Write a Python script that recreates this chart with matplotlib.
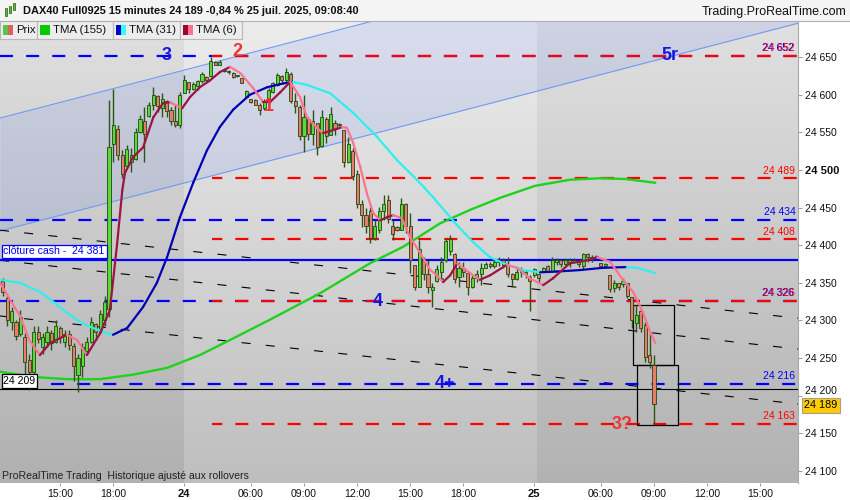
import numpy as np
import matplotlib
matplotlib.use("Agg")
import matplotlib.pyplot as plt
from matplotlib.patches import Rectangle
from matplotlib.collections import LineCollection
from matplotlib.colors import to_rgb
from matplotlib.lines import Line2D

plt.rcParams['font.family'] = ['Liberation Sans', 'DejaVu Sans']
plt.rcParams['lines.scale_dashes'] = False

# ---------------- data (15-minute candles, DAX40 Full0925) ----------------
opens = [24352, 24330, 24298, 24298, 24282, 24278, 24248, 24232, 24285, 24265,
         24272, 24283, 24272, 24290, 24272, 24282, 24266, 24228, 24240, 24260,
         24272, 24295, 24285, 24300, 24315, 24535, 24555, 24520, 24505, 24510,
         24515, 24550, 24565, 24572, 24586, 24598, 24583, 24592, 24580, 24565,
         24560, 24602, 24617, 24608, 24612, 24618, 24624, 24625, 24643, 24640,
         24632, 24631, 24629, 24625, 24622, 24597, 24594, 24593, 24587, 24582,
         24590, 24604, 24613, 24625, 24620, 24628, 24592, 24584, 24545, 24568,
         24548, 24562, 24532, 24568, 24546, 24562, 24560, 24553, 24510, 24525,
         24495, 24455, 24440, 24445, 24410, 24420, 24445, 24460, 24425, 24424,
         24420, 24455, 24425, 24374, 24345, 24380, 24362, 24340, 24352, 24365,
         24380, 24392, 24388, 24358, 24370, 24363, 24345, 24357, 24362, 24370,
         24375, 24372, 24378, 24380, 24374, 24362, 24355, 24365, 24362, 24358,
         24360, 24362, 24365, 24372, 24366, 24378, 24380, 24375, 24381, 24378,
         24378, 24372, 24388, 24385, 24384, 24376, 24372, 24360, 24343, 24350,
         24348, 24350, 24331, 24297, 24312, 24294, 24254, 24241]
highs = [24356, 24333, 24318, 24301, 24314, 24283, 24256, 24292, 24292, 24283,
         24292, 24287, 24301, 24292, 24287, 24287, 24270, 24256, 24270, 24278,
         24305, 24296, 24314, 24332, 24593, 24607, 24560, 24526, 24533, 24529,
         24556, 24573, 24584, 24590, 24610, 24600, 24602, 24593, 24584, 24587,
         24604, 24626, 24617, 24617, 24620, 24630, 24625, 24650, 24645, 24646,
         24633, 24633, 24630, 24626, 24622, 24606, 24595, 24594, 24589, 24594,
         24609, 24617, 24629, 24626, 24635, 24630, 24602, 24586, 24600, 24570,
         24580, 24562, 24580, 24570, 24584, 24566, 24563, 24553, 24544, 24529,
         24500, 24460, 24449, 24451, 24433, 24451, 24467, 24467, 24433, 24425,
         24463, 24456, 24443, 24374, 24407, 24384, 24380, 24350, 24374, 24384,
         24410, 24413, 24390, 24378, 24378, 24363, 24360, 24367, 24376, 24378,
         24378, 24380, 24384, 24383, 24384, 24363, 24370, 24371, 24367, 24360,
         24370, 24363, 24371, 24374, 24384, 24383, 24380, 24383, 24383, 24383,
         24380, 24390, 24390, 24387, 24387, 24376, 24376, 24360, 24354, 24350,
         24356, 24350, 24331, 24321, 24317, 24298, 24283, 24254]
lows = [24332, 24292, 24287, 24274, 24280, 24225, 24208, 24225, 24270, 24256,
        24265, 24261, 24270, 24270, 24265, 24261, 24219, 24205, 24225, 24256,
        24270, 24274, 24283, 24292, 24305, 24510, 24513, 24489, 24504, 24497,
        24513, 24549, 24510, 24570, 24580, 24577, 24570, 24570, 24560, 24557,
        24556, 24602, 24602, 24606, 24606, 24615, 24615, 24624, 24639, 24639,
        24630, 24628, 24622, 24624, 24615, 24596, 24589, 24586, 24573, 24580,
        24588, 24602, 24612, 24617, 24615, 24589, 24576, 24540, 24524, 24540,
        24533, 24520, 24530, 24536, 24546, 24546, 24558, 24504, 24509, 24487,
        24450, 24424, 24416, 24403, 24407, 24416, 24433, 24429, 24407, 24419,
        24420, 24416, 24363, 24340, 24345, 24354, 24336, 24318, 24351, 24356,
        24378, 24387, 24350, 24344, 24358, 24334, 24343, 24351, 24347, 24370,
        24370, 24370, 24373, 24370, 24358, 24344, 24354, 24358, 24356, 24313,
        24358, 24351, 24364, 24364, 24364, 24374, 24371, 24374, 24371, 24376,
        24371, 24367, 24378, 24378, 24383, 24371, 24370, 24338, 24338, 24341,
        24344, 24330, 24290, 24285, 24285, 24245, 24237, 24164]
closes = [24338, 24300, 24312, 24280, 24305, 24245, 24232, 24285, 24275, 24278,
          24285, 24270, 24292, 24278, 24282, 24268, 24240, 24250, 24265, 24272,
          24298, 24285, 24308, 24325, 24530, 24560, 24520, 24495, 24528, 24520,
          24550, 24568, 24548, 24586, 24600, 24585, 24595, 24578, 24565, 24560,
          24600, 24620, 24607, 24614, 24618, 24628, 24620, 24645, 24640, 24644,
          24631, 24630, 24623, 24625, 24616, 24605, 24590, 24587, 24580, 24592,
          24606, 24615, 24626, 24620, 24630, 24592, 24585, 24545, 24570, 24548,
          24565, 24530, 24570, 24545, 24575, 24555, 24561, 24510, 24535, 24492,
          24455, 24440, 24425, 24410, 24425, 24445, 24455, 24435, 24415, 24420,
          24455, 24425, 24380, 24345, 24395, 24362, 24345, 24345, 24368, 24378,
          24405, 24408, 24355, 24370, 24365, 24345, 24357, 24362, 24370, 24375,
          24372, 24378, 24380, 24374, 24362, 24355, 24365, 24368, 24365, 24352,
          24368, 24356, 24370, 24366, 24380, 24380, 24375, 24381, 24378, 24380,
          24375, 24388, 24385, 24383, 24386, 24372, 24375, 24342, 24350, 24345,
          24352, 24333, 24300, 24307, 24290, 24252, 24245, 24189]

tick_pos = [13, 25, 41, 56, 68, 80, 92, 104, 120, 135, 147, 159, 171]
tick_labels = ['15:00', '18:00', '24', '06:00', '09:00', '12:00', '15:00',
               '18:00', '25', '06:00', '09:00', '12:00', '15:00']
day_labels = ['24', '25']

# TMA (6)
tma6_x = [-0.6, 4, 6, 8.4, 10.7, 14.5, 16.8, 19, 22, 24.2, 25.8, 27, 27.6, 29.4,
          31.7, 34, 36.2, 37.8, 40.5, 42.3, 44.5, 46.8, 49, 51.3, 53.6, 56.5,
          58.8, 60.3, 62.6, 64.9, 67.1, 68.7, 70.9, 72.3, 74.6, 76.6, 77.7, 79.1,
          80.7, 82.2, 83.6, 85.2, 86.7, 88.1, 90.1, 91.9, 94.2, 96.5, 98, 99.4,
          101, 102.6, 103.9, 106.2, 107.7, 110, 113.8, 116.1, 119, 122, 124.2,
          128, 131.9, 134.2, 137.1, 140, 142.3, 144.5, 146.1, 147.3]
tma6_y = [24350, 24305, 24274, 24254, 24270, 24281, 24274, 24254, 24283, 24314,
          24400, 24473, 24496, 24517, 24530, 24570, 24589, 24590, 24582, 24597,
          24610, 24619, 24630, 24637, 24629, 24609, 24590, 24590, 24603, 24617,
          24597, 24570, 24556, 24549, 24553, 24557, 24556, 24536, 24504, 24469,
          24443, 24433, 24437, 24440, 24436, 24411, 24390, 24367, 24360, 24351,
          24360, 24376, 24370, 24360, 24354, 24360, 24374, 24370, 24356, 24347,
          24356, 24376, 24380, 24384, 24378, 24354, 24338, 24311, 24285, 24270]
# TMA (31)
tma31_x = [-0.6, 3.9, 8.4, 11.4, 14.5, 17.5, 20.4, 23.5, 24.9, 28.1, 31.7, 34.8,
           37.1, 40, 43, 46.1, 49, 52, 55.8, 59.7, 63.3, 65.5, 68.7, 73.9, 79.1,
           84.5, 89, 93.5, 97.1, 102.5, 106.2, 110, 113.8, 117.5, 121.3, 125,
           130.3, 135.5, 140.9, 143.2, 147.3]
tma31_y = [24354, 24350, 24338, 24325, 24310, 24298, 24290, 24283, 24281, 24290,
           24318, 24350, 24384, 24437, 24483, 24526, 24557, 24580, 24600, 24610,
           24615, 24617, 24613, 24602, 24576, 24544, 24513, 24487, 24464, 24427,
           24404, 24384, 24374, 24367, 24364, 24365, 24367, 24370, 24371, 24370,
           24363]
# TMA (155)
tma155_x = [-0.6, 6.8, 14.5, 22, 29.4, 37.1, 44.5, 51.3, 60.3, 71.6, 82.9, 90.4,
            98.7, 105.5, 112.3, 120.2, 128, 134.8, 140.5, 147.3]
tma155_y = [24232, 24225, 24222, 24222, 24228, 24237, 24254, 24274, 24301, 24336,
            24376, 24398, 24429, 24447, 24463, 24479, 24487, 24489, 24488, 24483]

# drawn objects (values at the left / right edge of the chart)
channel_lower = (24419, 24695)
channel_upper = (24569, 24845)
diag_lines = [(24420, 24303), (24380, 24262), (24306, 24189)]
blue_levels = [24652, 24434, 24326]
blue_level_216 = 24216
red_levels = [24652, 24489, 24408, 24326, 24163]
cash_close = 24381
ref_level = 24209
last_price = 24189
level_labels = [(24652, '24 652', 'both'), (24489, '24 489', 'red'),
                (24434, '24 434', 'blue'), (24408, '24 408', 'red'),
                (24326, '24 326', 'both'), (24216, '24 216', 'blue'),
                (24163, '24 163', 'red')]
wave_labels = [('3', 36.9, 24652, 'blue'), ('2', 52.9, 24658, 'red'),
               ('1', 60.1, 24584, 'red'), ('5r', 150.6, 24652, 'blue'),
               ('4', 84.6, 24325, 'blue'), ('4+', 99.8, 24216, 'blue'),
               ('3?', 139.8, 24162, 'red')]
boxes = [(142.3, 151.5, 24241, 24321), (143.2, 152.4, 24161, 24241)]

# ---------------- figure ----------------
W, H = 850, 500
fig = plt.figure(figsize=(8.5, 5), dpi=100)
fig.patch.set_facecolor('white')
ax = fig.add_axes([0, 17 / H, 798 / W, 462 / H])
XL = (-0.6, 179.5)
YL = (24084, 24698)

BLUE = '#0000ff'
RED = '#ff0000'


def grad(top, bot, n=256):
    t = np.linspace(0, 1, n)[:, None]
    a = np.array(to_rgb(top))
    b = np.array(to_rgb(bot))
    return (a * (1 - t) + b * t)[:, None, :]


band_edges = [XL[0], 41.0, 120.7, XL[1]]
band_cols = [('#e0e0e0', '#b0b0b0'), ('#ececec', '#bebebe'), ('#e0e0e0', '#b2b2b2')]
for i in range(3):
    ax.imshow(grad(*band_cols[i]), extent=[band_edges[i], band_edges[i + 1], YL[0], YL[1]],
              aspect='auto', origin='upper', zorder=0, interpolation='bilinear')

# regression channel
ax.fill_between(XL, channel_lower, channel_upper, color=(0.3, 0.45, 1.0), alpha=0.12,
                lw=0, zorder=1)
ax.plot(XL, channel_lower, color='#6f9bf2', lw=0.8, zorder=1.5)
ax.plot(XL, channel_upper, color='#6f9bf2', lw=0.8, zorder=1.5)

# diagonal dashed lines
for a, b in diag_lines:
    ax.plot(XL, [a, b], color='black', lw=0.8, ls=(0, (6.5, 11)), zorder=2)

# levels
for v in blue_levels:
    ax.plot(XL, [v, v], color=BLUE, lw=1.6, ls=(0, (9.4, 9.4)), zorder=2.5)
ax.plot([11, XL[1]], [blue_level_216] * 2, color=BLUE, lw=1.6, ls=(0, (9.4, 9.4)), zorder=2.5)
for v in red_levels:
    ax.plot([47.3, XL[1]], [v, v], color=RED, lw=1.6, ls=(2, (9.4, 9.4)), zorder=2.6)
ax.plot(XL, [cash_close] * 2, color=BLUE, lw=1.6, zorder=2.5)
ax.plot(XL, [ref_level] * 2, color='black', lw=0.8, zorder=2.5)

# boxes
for x0, x1, y0, y1 in boxes:
    ax.add_patch(Rectangle((x0, y0), x1 - x0, y1 - y0, fill=False, ec='black', lw=0.9, zorder=3))


# moving averages
def colored_line(xs, ys, up, down, lw, z):
    xs = np.asarray(xs, float)
    ys = np.asarray(ys, float)
    pts = np.column_stack([xs, ys])
    segs = np.stack([pts[:-1], pts[1:]], axis=1)
    cols = [up if ys[i + 1] >= ys[i] else down for i in range(len(ys) - 1)]
    ax.add_collection(LineCollection(segs, colors=cols, linewidths=lw, zorder=z,
                                     capstyle='round', joinstyle='round'))


ax.plot(tma155_x, tma155_y, color='#1ed21e', lw=1.7, zorder=3, solid_capstyle='round')

# candles
x = np.arange(len(closes))
o = np.array(opens, float)
c = np.array(closes, float)
hi = np.array(highs, float)
lo = np.array(lows, float)
bull = c >= o
ax.vlines(x, lo, hi, color='#2a5512', lw=1.0, zorder=4)
bottoms = np.minimum(o, c)
heights = np.maximum(np.abs(c - o), 1.5)
fills = np.where(bull, '#5cd83c', '#ea7a6c')
ax.bar(x, heights, width=0.7, bottom=bottoms, color=fills, edgecolor='#1e4a0c',
       linewidth=0.6, zorder=4.5)

colored_line(tma31_x, tma31_y, '#0000b4', '#30eeee', 1.6, 5)
colored_line(tma6_x, tma6_y, '#9c1442', '#ff7392', 1.6, 6)

# wave labels
for txt, xi, yv, col in wave_labels:
    ax.text(xi, yv, txt, color='#1414e6' if col == 'blue' else '#ee3535',
            fontsize=13, fontweight='bold', ha='center', va='center', zorder=8)

# level labels at right
for v, txt, col in level_labels:
    if col in ('blue', 'both'):
        ax.annotate(txt, xy=(178.9, v), xytext=(-0.8 if col == 'both' else 0, 1.8),
                    textcoords='offset points', ha='right', va='bottom', color=BLUE,
                    fontsize=7.5, zorder=8)
    if col in ('red', 'both'):
        ax.annotate(txt, xy=(178.9, v), xytext=(0, 1.8), textcoords='offset points',
                    ha='right', va='bottom', color=RED, fontsize=7.5, zorder=8.1,
                    alpha=0.85 if col == 'both' else 1.0)

# left labels
ax.annotate('clôture cash -  24 381', xy=(0, cash_close), xycoords=('axes fraction', 'data'),
            xytext=(2.5, 2.2), textcoords='offset points', ha='left', va='bottom',
            color=BLUE, fontsize=7.6, zorder=9,
            bbox=dict(boxstyle='square,pad=0.18', fc='white', ec=BLUE, lw=0.9))
ax.annotate('24 209', xy=(0, ref_level), xycoords=('axes fraction', 'data'),
            xytext=(2.5, 2.2), textcoords='offset points', ha='left', va='bottom',
            color='black', fontsize=7.6, zorder=9,
            bbox=dict(boxstyle='square,pad=0.18', fc='white', ec='black', lw=0.9))

# current price tag
ax.annotate('24 189', xy=(1.0, last_price), xycoords=('axes fraction', 'data'),
            xytext=(4.5, -1), textcoords='offset points', ha='left', va='center',
            fontsize=7.8, color='black', zorder=10, annotation_clip=False,
            bbox=dict(boxstyle='square,pad=0.2', fc='#ffcc00', ec='#a0a0a0', lw=0.8))

ax.set_xlim(*XL)
ax.set_ylim(*YL)

# axes styling
for s in ['top', 'left', 'bottom']:
    ax.spines[s].set_visible(False)
ax.spines['right'].set_color('#a8a8a8')
ax.spines['right'].set_linewidth(0.8)
ax.yaxis.tick_right()
yt = list(range(24100, 24651, 50))
ax.set_yticks(yt)
ax.set_yticklabels([f"{v // 1000} {v % 1000:03d}" for v in yt])
ax.tick_params(axis='y', labelsize=7.5, length=3, width=0.6, color='#888888', pad=2,
               labelcolor='#111111')
for lab, v in zip(ax.get_yticklabels(), yt):
    if v == 24500:
        lab.set_fontweight('bold')
        lab.set_fontsize(8)
    if v == 24200:
        lab.set_va('bottom')
ax.set_xticks(tick_pos)
ax.set_xticklabels(tick_labels)
ax.tick_params(axis='x', labelsize=7.5, length=2.5, width=0.6, color='#888888', pad=1.5,
               labelcolor='#111111')
for lab in ax.get_xticklabels():
    if lab.get_text() in day_labels:
        lab.set_fontweight('bold')
        lab.set_fontsize(8)


# ---------------- header / legend (figure pixel coordinates) ----------------
def fx(px):
    return px / W


def fy(py):
    return 1 - py / H


fig.add_artist(Rectangle((0, fy(20.5)), 1, 20.5 / H, transform=fig.transFigure,
                         fc='#f4f4f4', ec='none', zorder=20))
fig.add_artist(Line2D([0, 1], [fy(20.5), fy(20.5)], transform=fig.transFigure,
                      color='#b0b0b0', lw=0.8, zorder=21))
# small candle icon
for (cx, y0, y1, col) in [(6, 8, 16, '#55bb33'), (10, 6, 13, '#55bb33'), (14, 3, 10, '#55bb33')]:
    fig.add_artist(Rectangle((fx(cx - 1.3), fy(y1)), 2.6 / W, (y1 - y0) / H,
                             transform=fig.transFigure, fc=col, ec='#2b5a14', lw=0.5, zorder=22))
fig.text(fx(23), fy(11), 'DAX40 Full0925 15 minutes 24 189 -0,84 % 25 juil. 2025, 09:08:40',
         fontsize=7.9, fontweight='bold', va='center', ha='left', color='#111111', zorder=22)
fig.text(fx(846), fy(11.5), 'Trading.ProRealTime.com', fontsize=9, va='center', ha='right',
         color='#111111', zorder=22)

legend_items = [(0, 37, [('#55c84a', '#e06060')], 'Prix'),
                (37, 113, [('#00cc00', '#00cc00')], 'TMA (155)'),
                (113, 180, [('#0000cc', '#33ffff')], 'TMA (31)'),
                (180, 242, [('#990033', '#ff6f8f')], 'TMA (6)')]
for x0, x1, sw, txt in legend_items:
    fig.add_artist(Rectangle((fx(x0), fy(38.5)), (x1 - x0) / W, 17.5 / H, transform=fig.transFigure,
                             fc='#ececec', ec='#b8b8b8', lw=0.8, zorder=20))
    c1, c2 = sw[0]
    fig.add_artist(Rectangle((fx(x0 + 3), fy(35)), 5 / W, 10 / H, transform=fig.transFigure,
                             fc=c1, ec='none', zorder=21))
    fig.add_artist(Rectangle((fx(x0 + 8), fy(35)), 5 / W, 10 / H, transform=fig.transFigure,
                             fc=c2, ec='none', zorder=21))
    fig.text(fx(x0 + 16), fy(30), txt, fontsize=8.2, va='center', ha='left', color='#111111',
             zorder=22)

fig.text(fx(2), fy(476), 'ProRealTime Trading  Historique ajusté aux rollovers', fontsize=7.6,
         va='center', ha='left', color='#222222', zorder=22)

fig.savefig('out.png', dpi=100)
